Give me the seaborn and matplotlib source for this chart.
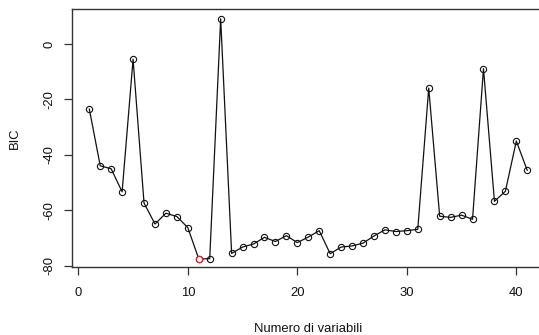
import matplotlib
matplotlib.use("Agg")
import matplotlib.pyplot as plt
import seaborn as sns
import pandas as pd

n_vars = list(range(1, 42))
bic = [-23.4, -43.9, -45.0, -53.3, -5.5, -57.3, -64.9, -61.0, -62.2, -66.2,
       -77.5, -77.4, 9.1, -75.5, -73.2, -72.1, -69.7, -71.2, -69.1, -71.6,
       -69.6, -67.3, -75.6, -73.2, -72.8, -71.8, -69.2, -67.0, -67.6, -67.3,
       -66.8, -15.9, -62.1, -62.5, -61.7, -63.2, -8.9, -56.7, -53.1, -35.0,
       -45.6]
best_n = [11]
best_bic = [-77.5]
x_ticks = [0, 10, 20, 30, 40]
y_ticks = [-80, -60, -40, -20, 0]

df = pd.DataFrame({"n": n_vars, "bic": bic})
best = pd.DataFrame({"n": best_n, "bic": best_bic})

sns.set_theme(style="ticks")
plt.rcParams["font.family"] = ["Liberation Sans", "DejaVu Sans"]

fig = plt.figure(figsize=(5.39, 3.35), dpi=100)
W, H = 539, 335
left, right, top, bottom = 72.3, 544.8, 9.3, 267.3
ax = fig.add_axes([left / W, 1 - bottom / H, (right - left) / W, (bottom - top) / H])

sns.lineplot(data=df, x="n", y="bic", ax=ax, color="#111111", linewidth=0.9,
             marker="o", markersize=4.5, markerfacecolor="none",
             markeredgecolor="#111111", markeredgewidth=0.8)
sns.lineplot(data=best, x="n", y="bic", ax=ax, color="#e0202a", linewidth=0,
             marker="o", markersize=4.5, markerfacecolor="white",
             markeredgecolor="#e0202a", markeredgewidth=0.9)

ax.set_xlim(-0.55, 42.6)
ax.set_ylim(-80.5, 12.5)
ax.set_xticks(x_ticks)
ax.set_xticklabels([str(v) for v in x_ticks])
ax.set_yticks(y_ticks)
ax.set_yticklabels([str(v) for v in y_ticks], rotation=90, va="center")

for s in ax.spines.values():
    s.set_visible(True)
    s.set_color("#333333")
    s.set_linewidth(1.0)

ax.tick_params(axis="both", direction="out", length=6.1, width=0.9,
               color="#333333", labelsize=9.4, labelcolor="#111111")
ax.tick_params(axis="x", pad=7.9)
ax.tick_params(axis="y", pad=6.0)

ax.set_xlabel("Numero di variabili", fontsize=9.4, color="#111111", va="center")
ax.set_ylabel("BIC", fontsize=9.4, color="#111111", va="center")
ax.xaxis.set_label_coords(0.5, -0.240)
ax.yaxis.set_label_coords(-0.1213, 0.5)

fig.savefig("out.png", dpi=100)
